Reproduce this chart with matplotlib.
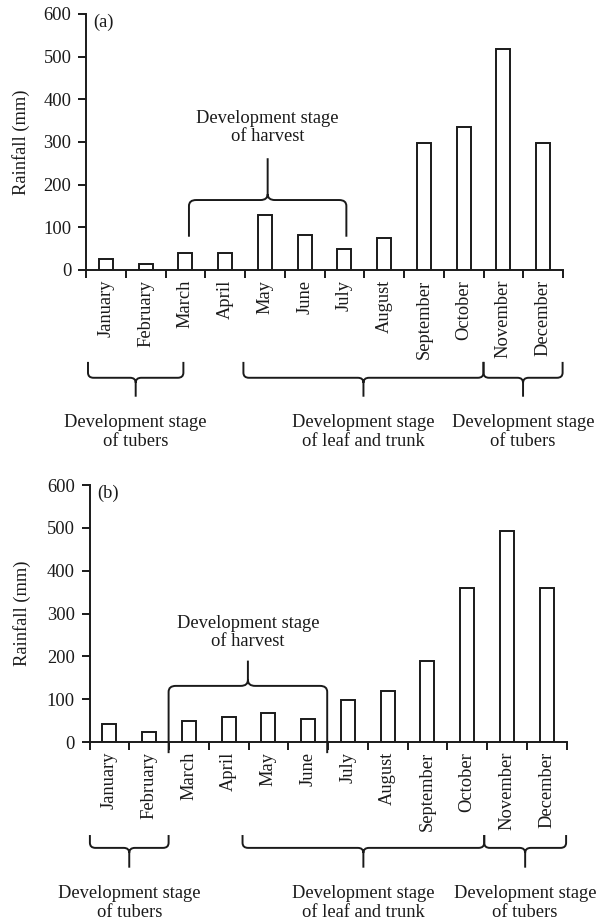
import matplotlib
matplotlib.use("Agg")
import matplotlib.pyplot as plt
from matplotlib.path import Path
from matplotlib.patches import PathPatch
import matplotlib.transforms as mtransforms
import numpy as np

plt.rcParams["font.family"] = ["Liberation Serif", "DejaVu Serif"]
plt.rcParams["font.size"] = 13.3

months = ["January", "February", "March", "April", "May", "June", "July",
          "August", "September", "October", "November", "December"]

# rainfall (mm)
rain_a = [25, 14, 40, 41, 130, 82, 49, 76, 297, 335, 519, 298]
rain_b = [43, 24, 50, 59, 68, 53, 99, 120, 189, 359, 492, 359]

# stage braces under the axis: (start, end) in month-index units
stages_a = [(-0.45, 1.95), (3.46, 9.5), (9.5, 11.49)]
stages_b = [(-0.49, 1.49), (3.35, 9.43), (9.43, 11.49)]
stage_text = ["Development stage\nof tubers",
              "Development stage\nof leaf and trunk",
              "Development stage\nof tubers"]

# harvest brace: x span, arm end / bar / tip / label in mm
harvest_a = (2.09, 6.05, 78, 164, 262, 334)
harvest_b = (1.49, 5.48, -26, 131, 190, 256)

INK = "#1a1a1a"


def brace(ax, x0, x1, y_arm, y_bar, y_tip, rx, ry, transform):
    xm = (x0 + x1) / 2
    s = 1 if y_arm > y_bar else -1
    verts = [
        (x0, y_arm), (x0, y_bar + s * ry),
        (x0, y_bar), (x0 + rx, y_bar),
        (xm - rx, y_bar),
        (xm, y_bar), (xm, y_bar - s * ry),
        (xm, y_tip),
        (xm, y_bar - s * ry),
        (xm, y_bar), (xm + rx, y_bar),
        (x1 - rx, y_bar),
        (x1, y_bar), (x1, y_bar + s * ry),
        (x1, y_arm),
    ]
    codes = [Path.MOVETO, Path.LINETO,
             Path.CURVE3, Path.CURVE3,
             Path.LINETO,
             Path.CURVE3, Path.CURVE3,
             Path.LINETO,
             Path.MOVETO,
             Path.CURVE3, Path.CURVE3,
             Path.LINETO,
             Path.CURVE3, Path.CURVE3,
             Path.LINETO]
    patch = PathPatch(Path(verts, codes), facecolor="none", edgecolor=INK,
                      lw=1.4, transform=transform, clip_on=False)
    ax.add_patch(patch)


def draw_panel(ax, values, stages, harvest, tag, ylab_x, br_y, txt_y):
    x = np.arange(len(months))
    ax.bar(x, values, width=0.35, color="white", edgecolor=INK, linewidth=1.4)
    ax.set_xlim(-0.5, 11.5)
    ax.set_ylim(0, 600)
    ax.set_yticks(np.arange(0, 601, 100))

    ax.set_xticks(np.arange(-0.5, 12, 1))
    ax.set_xticklabels([])
    ax.set_xticks(x, minor=True)
    ax.set_xticklabels(months, minor=True, rotation=90, va="top", ha="center")
    ax.tick_params(axis="x", which="minor", length=0, pad=7, colors=INK)
    ax.tick_params(axis="both", which="major", direction="out", length=5.5,
                   width=1.4, colors=INK, pad=5)

    for side in ["top", "right"]:
        ax.spines[side].set_visible(False)
    for side in ["left", "bottom"]:
        ax.spines[side].set_linewidth(1.4)
        ax.spines[side].set_color(INK)

    ax.set_ylabel("Rainfall (mm)", color=INK)
    ax.yaxis.set_label_coords(ylab_x, 0.5)
    ax.text(0.016, 0.967, tag, transform=ax.transAxes, ha="left", va="center",
            color=INK)

    # harvest brace (data coordinates)
    hx0, hx1, arm, bar, tip, ty = harvest
    brace(ax, hx0, hx1, arm, bar, tip, 0.18, 14, ax.transData)
    ax.text((hx0 + hx1) / 2, ty, "Development stage\nof harvest", ha="center",
            va="center", color=INK, linespacing=1.13)

    # stage braces below the month labels
    trans = mtransforms.blended_transform_factory(ax.transData, ax.transAxes)
    for (s0, s1), label in zip(stages, stage_text):
        brace(ax, s0, s1, br_y[0], br_y[1], br_y[2], 0.14, 0.02, trans)
        ax.text((s0 + s1) / 2, txt_y, label, transform=trans, ha="center",
                va="center", color=INK, linespacing=1.13, clip_on=False)


fig = plt.figure(figsize=(5.97, 9.22), dpi=100)
ax_a = fig.add_axes([86 / 597, 1 - 270 / 922, 477 / 597, 256 / 922])
ax_b = fig.add_axes([89.5 / 597, 1 - 742 / 922, 477 / 597, 257 / 922])

draw_panel(ax_a, rain_a, stages_a, harvest_a, "(a)", -0.118,
           (-0.359, -0.421, -0.495), -0.634)
draw_panel(ax_b, rain_b, stages_b, harvest_b, "(b)", -0.122,
           (-0.362, -0.412, -0.489), -0.627)

fig.savefig("out.png", dpi=100)
